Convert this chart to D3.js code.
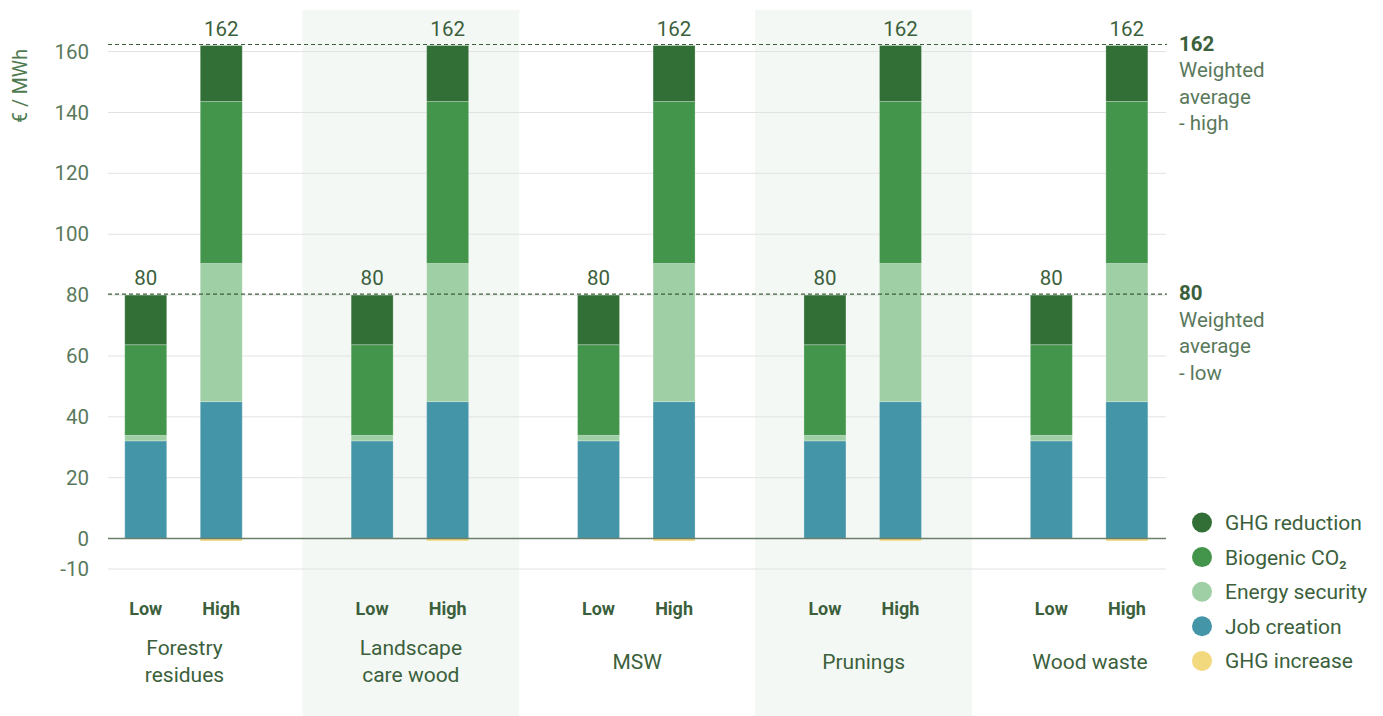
<!DOCTYPE html>
<html>
<head>
<meta charset="utf-8">
<script src="https://cdn.jsdelivr.net/npm/d3@7"></script>
<style>
  html, body { margin: 0; padding: 0; background: #fff; }
  svg { display: block; font-family: Roboto, "Noto Sans", sans-serif; }
</style>
</head>
<body>
<svg id="chart" width="1383" height="716"></svg>
<script>
// ---------- DATA ----------
const groups = ["Forestry residues", "Landscape care wood", "MSW", "Prunings", "Wood waste"];
const groupLines = [["Forestry", "residues"], ["Landscape", "care wood"], ["MSW"], ["Prunings"], ["Wood waste"]];
const scenarios = ["Low", "High"];
const seriesNames = ["GHG reduction", "Biogenic CO₂", "Energy security", "Job creation", "GHG increase"];
const seriesColors = ["#316f37", "#42954a", "#9fcfa4", "#4595a8", "#f2d97e"];

// values per scenario (Low, High), same for each feedstock group
const ghgReductionLow  = [16.3, 16.3, 16.3, 16.3, 16.3];
const ghgReductionHigh = [18.4, 18.4, 18.4, 18.4, 18.4];
const biogenicLow      = [29.8, 29.8, 29.8, 29.8, 29.8];
const biogenicHigh     = [53.2, 53.2, 53.2, 53.2, 53.2];
const energyLow        = [1.8, 1.8, 1.8, 1.8, 1.8];
const energyHigh       = [45.4, 45.4, 45.4, 45.4, 45.4];
const jobLow           = [32.1, 32.1, 32.1, 32.1, 32.1];
const jobHigh          = [45.0, 45.0, 45.0, 45.0, 45.0];
const ghgIncreaseLow   = [0, 0, 0, 0, 0];
const ghgIncreaseHigh  = [-0.8, -0.8, -0.8, -0.8, -0.8];

const yTicks = [-10, 0, 20, 40, 60, 80, 100, 120, 140, 160];
const refValues = [162, 80];
const refLabels = [["Weighted", "average", "- high"], ["Weighted", "average", "- low"]];
const shadedGroups = ["Landscape care wood", "Prunings"];

// ---------- BUILD TABLE ----------
const rows = [];
groups.forEach((g, i) => {
  rows.push({ group: g, scen: "Low",
    "GHG reduction": ghgReductionLow[i], "Biogenic CO₂": biogenicLow[i],
    "Energy security": energyLow[i], "Job creation": jobLow[i], "GHG increase": ghgIncreaseLow[i] });
  rows.push({ group: g, scen: "High",
    "GHG reduction": ghgReductionHigh[i], "Biogenic CO₂": biogenicHigh[i],
    "Energy security": energyHigh[i], "Job creation": jobHigh[i], "GHG increase": ghgIncreaseHigh[i] });
});
const stackOrder = ["Job creation", "Energy security", "Biogenic CO₂", "GHG reduction", "GHG increase"];
const stacked = d3.stack().keys(stackOrder).offset(d3.stackOffsetDiverging)(rows);
const colorOf = d3.scaleOrdinal().domain(seriesNames).range(seriesColors);
const totalOf = d => stackOrder.slice(0, 4).reduce((s, k) => s + d[k], 0);

// ---------- SCALES ----------
const svg = d3.select("#chart");
const plotLeft = 108, plotRight = 1166;
const x0 = d3.scaleBand().domain(groups).range([76, 1198.5]).paddingInner(0.042).paddingOuter(0);
const x1 = d3.scaleBand().domain(scenarios).range([48.75, 166.25]).paddingInner(0.444).paddingOuter(0);
const y = d3.scaleLinear().domain([-10, 160]).range([569, 51.6]);

const textDark = "#3c5f3c";
const textMid = "#5a795c";

// shaded bands
svg.append("g").selectAll("rect").data(shadedGroups).join("rect")
  .attr("x", d => x0(d)).attr("y", 10)
  .attr("width", x0.bandwidth()).attr("height", 716 - 10)
  .attr("fill", "#f3f8f4");

// gridlines
svg.append("g").selectAll("line").data(yTicks.filter(t => t !== 0)).join("line")
  .attr("x1", plotLeft).attr("x2", plotRight)
  .attr("y1", d => y(d)).attr("y2", d => y(d))
  .attr("stroke", "#e2e2e2").attr("stroke-width", 1);

// y axis tick labels
const yAxis = d3.axisLeft(y).tickValues(yTicks).tickSize(0).tickPadding(0).tickFormat(d => String(d));
const ya = svg.append("g").attr("transform", "translate(89,0)").call(yAxis);
ya.select(".domain").remove();
ya.selectAll("text").attr("fill", textMid).attr("font-size", 20.5).attr("font-family", "Roboto").attr("font-weight", 400);

// y axis title
svg.append("text")
  .attr("transform", "translate(27,86) rotate(-90)")
  .attr("text-anchor", "middle")
  .attr("fill", "#4f7a50").attr("font-size", 19.5).attr("font-weight", 400)
  .text("€ / MWh");

// bars
const layer = svg.append("g").selectAll("g").data(stacked).join("g")
  .attr("fill", d => colorOf(d.key));
layer.selectAll("rect").data(d => d).join("rect")
  .attr("x", d => x0(d.data.group) + x1(d.data.scen))
  .attr("width", x1.bandwidth())
  .attr("y", d => y(Math.max(d[0], d[1])))
  .attr("height", d => Math.abs(y(d[0]) - y(d[1])))
  .attr("stroke", "#ffffff").attr("stroke-opacity", 0.25).attr("stroke-width", 1);

// zero line
svg.append("line")
  .attr("x1", plotLeft).attr("x2", plotRight)
  .attr("y1", y(0)).attr("y2", y(0))
  .attr("stroke", "#6b7f6b").attr("stroke-width", 1.5);

// totals above bars
svg.append("g").selectAll("text").data(rows).join("text")
  .attr("x", d => x0(d.group) + x1(d.scen) + x1.bandwidth() / 2)
  .attr("y", d => y(totalOf(d)) - 10)
  .attr("text-anchor", "middle")
  .attr("fill", textDark).attr("font-size", 20.5).attr("font-weight", 400)
  .text(d => Math.round(totalOf(d)));

// reference dashed lines
svg.append("g").selectAll("line").data(refValues).join("line")
  .attr("x1", plotLeft).attr("x2", 1167)
  .attr("y1", d => y(d) - 1).attr("y2", d => y(d) - 1)
  .attr("stroke", "#3c5f3c").attr("stroke-width", 1.2).attr("stroke-dasharray", "4,3");

// reference labels on the right
const ref = svg.append("g").selectAll("g").data(refValues).join("g")
  .attr("transform", d => `translate(1179,${y(d) + 5})`);
ref.append("text").attr("y", 0)
  .attr("fill", textDark).attr("font-size", 20.5).attr("font-weight", 700)
  .text(d => d);
ref.each(function(d, i) {
  d3.select(this).selectAll("text.sub").data(refLabels[i]).join("text")
    .attr("class", "sub")
    .attr("y", (t, j) => 26.5 * (j + 1))
    .attr("fill", textMid).attr("font-size", 20.5).attr("font-weight", 400)
    .text(t => t);
});

// scenario labels
svg.append("g").selectAll("text").data(rows).join("text")
  .attr("x", d => x0(d.group) + x1(d.scen) + x1.bandwidth() / 2)
  .attr("y", 615)
  .attr("text-anchor", "middle")
  .attr("fill", textDark).attr("font-size", 18).attr("font-weight", 700)
  .text(d => d.scen);

// group labels
const gl = svg.append("g").selectAll("text").data(groups).join("text")
  .attr("x", d => x0(d) + x0.bandwidth() / 2)
  .attr("text-anchor", "middle")
  .attr("fill", textDark).attr("font-size", 21).attr("font-weight", 400);
gl.each(function(d, i) {
  const lines = groupLines[i];
  const startY = lines.length === 1 ? 669 : 655;
  d3.select(this).selectAll("tspan").data(lines).join("tspan")
    .attr("x", x0(d) + x0.bandwidth() / 2)
    .attr("y", (t, j) => startY + j * 27)
    .text(t => t);
});

// legend
const legend = svg.append("g").selectAll("g").data(seriesNames).join("g")
  .attr("transform", (d, i) => `translate(1202,${522.5 + i * 34.6})`);
legend.append("circle").attr("r", 10).attr("fill", d => colorOf(d));
legend.append("text").attr("x", 23).attr("y", 7.5)
  .attr("fill", textDark).attr("font-size", 21).attr("font-weight", 400)
  .text(d => d);
</script>
</body>
</html>
